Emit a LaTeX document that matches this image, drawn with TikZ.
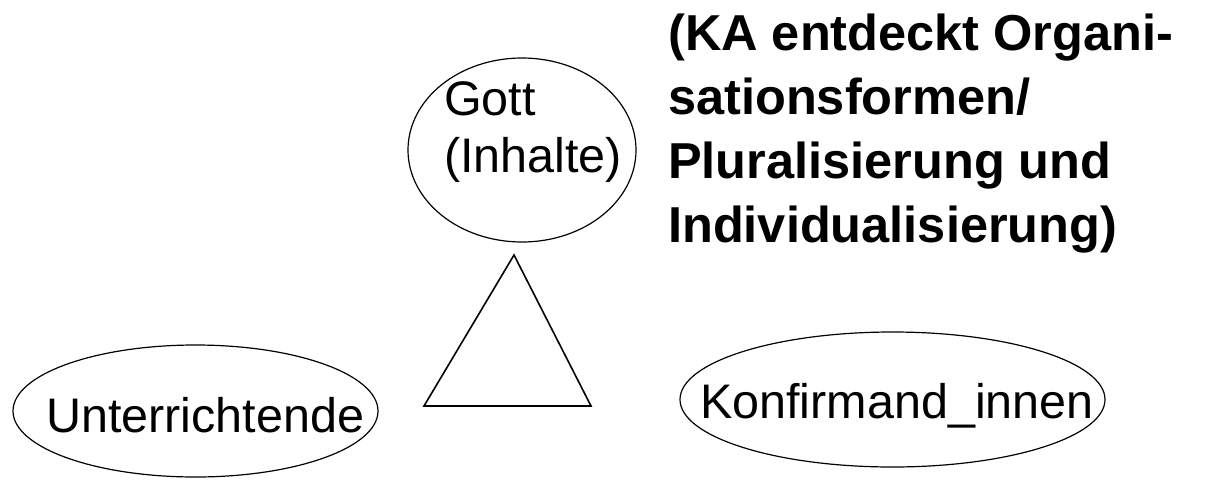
\documentclass[tikz,border=0pt]{standalone}
\usepackage{fontspec}
\setmainfont{Liberation Sans}
\usetikzlibrary{shapes.geometric}
\begin{document}
\begin{tikzpicture}[x=1pt,y=-1pt,
  oval/.style={draw,ellipse,line width=1.2pt,inner sep=0pt},
  lbl/.style={anchor=base west,inner sep=0pt,font=\fontsize{48.5}{57}\selectfont},
  bold/.style={anchor=base west,inner sep=0pt,align=left,font=\fontsize{50.5}{64}\selectfont\bfseries}]
\useasboundingbox (0,0) rectangle (1216,480);
\node[oval,minimum width=228pt,minimum height=184pt] (gott) at (522,150) {};
\node[lbl] (gt1) at (444,115) {Gott};
\node[lbl] (gt2) at (444,172) {(Inhalte)};
\node[oval,minimum width=365pt,minimum height=132pt] (unt) at (195.5,411) {};
\node[lbl] (ut) at (46,432) {Unterrichtende};
\node[oval,minimum width=425pt,minimum height=135pt] (konf) at (892.5,399.5) {};
\node[lbl] (kt) at (700,418) {Konfirmand\_innen};
\coordinate (a) at (514,255);
\coordinate (b) at (424,406);
\coordinate (c) at (591,406);
\draw[line width=1.6pt,line join=miter] (a) -- (b) -- (c) -- cycle;
\node[bold] (ka) at (668,242) {(KA entdeckt Organi-\\sationsformen/\\Pluralisierung und\\Individualisierung)};
\end{tikzpicture}
\end{document}
